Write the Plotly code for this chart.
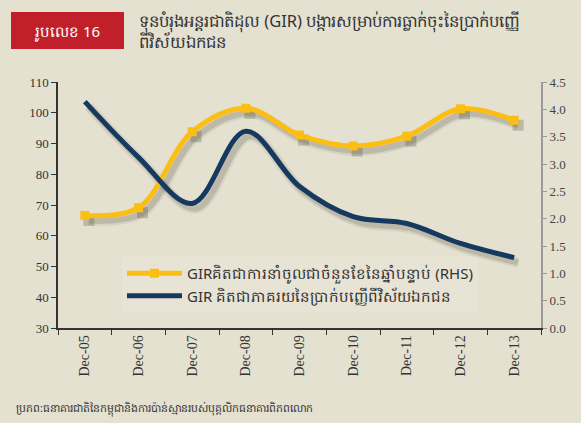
import plotly.graph_objects as go

categories = ["Dec-05", "Dec-06", "Dec-07", "Dec-08", "Dec-09", "Dec-10", "Dec-11", "Dec-12", "Dec-13"]
gir_months_rhs = [2.06, 2.20, 3.59, 4.02, 3.53, 3.33, 3.51, 4.01, 3.80]
gir_pct_deposits = [103.6, 85.5, 70.5, 94.0, 76.0, 66.2, 64.0, 57.5, 52.9]
left_ticks = [30, 40, 50, 60, 70, 80, 90, 100, 110]
right_ticks = [0.0, 0.5, 1.0, 1.5, 2.0, 2.5, 3.0, 3.5, 4.0, 4.5]
right_tick_text = ["0.0", "0.5", "1.0", "1.5", "2.0", "2.5", "3.0", "3.5", "4.0", "4.5"]

name_rhs = "GIRគិតជាការនាំចូលជាចំនួនខែនៃឆ្នាំបន្ទាប់ (RHS)"
name_lhs = "GIR គិតជាភាគរយនៃប្រាក់បញ្ញើពីវិស័យឯកជន"
title_text = "ទុនបំរុងអន្តរជាតិដុល (GIR) បង្ការសម្រាប់ការធ្លាក់ចុះនៃប្រាក់បញ្ញើ<br>ពីវិស័យឯកជន"
badge_text = "រូបលេខ 16"
source_text = "ប្រភព:ធនាគារជាតិនៃកម្ពុជានិងការប៉ាន់ស្មានរបស់បុគ្គលិកធនាគារពិភពលោក"

W, H = 581, 423
L, R, T, B = 58, 40, 82, 95
PW, PH = W - L - R, H - T - B
BG = "#E4E1D1"
YEL = "#FDBE14"
BLU = "#163A5F"
SERIF = "Liberation Serif, Times New Roman, serif"
SANS = "Noto Sans, Open Sans, sans-serif"

def px_x(p):
    return (p - L) / PW

def px_y(p):
    return (T + PH - p) / PH

# shadow offsets (pixels)
dx_px, dy_px = 4, 5
cat_w = PW / len(categories)
dx = dx_px / cat_w
dyl = dy_px * (110 - 30) / PH
dyr = dy_px * 4.5 / PH

fig = go.Figure()
# shadows (main subplot, drawn underneath)
for w, op in [(10, 0.08), (6, 0.14)]:
    fig.add_trace(go.Scatter(x=categories, y=gir_pct_deposits, xaxis="x", yaxis="y",
                             mode="lines", line=dict(color=f"rgba(40,35,20,{op})", width=w, shape="spline", smoothing=1.0),
                             showlegend=False, hoverinfo="skip"))
    fig.add_trace(go.Scatter(x=categories, y=gir_months_rhs, xaxis="x", yaxis="y2",
                             mode="lines+markers", line=dict(color=f"rgba(40,35,20,{op})", width=w, shape="spline", smoothing=1.0),
                             marker=dict(symbol="square", size=11, color=f"rgba(40,35,20,{op})"),
                             showlegend=False, hoverinfo="skip"))
# real lines
fig.add_trace(go.Scatter(x=categories, y=gir_months_rhs, xaxis="x2", yaxis="y3", name=name_rhs,
                         mode="lines+markers", line=dict(color=YEL, width=5, shape="spline", smoothing=1.0),
                         marker=dict(symbol="square", size=9, color=YEL)))
fig.add_trace(go.Scatter(x=categories, y=gir_pct_deposits, xaxis="x2", yaxis="y4", name=name_lhs,
                         mode="lines", line=dict(color=BLU, width=5, shape="spline", smoothing=1.0)))

hidden = dict(showticklabels=False, showline=False, showgrid=False, zeroline=False, ticks="")
fig.update_layout(
    width=W, height=H,
    margin=dict(l=L, r=R, t=T, b=B),
    paper_bgcolor=BG, plot_bgcolor=BG,
    showlegend=True,
    xaxis=dict(range=[-0.5 - dx, len(categories) - 0.5 - dx], type="category", **hidden),
    yaxis=dict(range=[30 + dyl, 110 + dyl], **hidden),
    yaxis2=dict(range=[0 + dyr, 4.5 + dyr], overlaying="y", **hidden),
    xaxis2=dict(range=[-0.5, len(categories) - 0.5], type="category", overlaying="x", anchor="y3",
                showline=True, linecolor="#333333", linewidth=1.5, ticks="outside", ticklen=5,
                tickcolor="#333333", tickson="boundaries", tickangle=-90,
                tickfont=dict(family=SERIF, size=14, color="#333333"), showgrid=False, zeroline=False),
    yaxis3=dict(range=[0, 4.5], overlaying="y", side="right", anchor="x2",
                tickvals=right_ticks, ticktext=right_tick_text,
                showline=True, linecolor="#9A9A9A", linewidth=2, ticks="outside", ticklen=4,
                tickcolor="#9A9A9A", tickfont=dict(family=SERIF, size=13, color="#444444"),
                showgrid=False, zeroline=False),
    yaxis4=dict(range=[30, 110], overlaying="y", side="left", anchor="x2",
                tickvals=left_ticks,
                showline=True, linecolor="#333333", linewidth=1.5, ticks="outside", ticklen=5,
                tickcolor="#333333", tickfont=dict(family=SERIF, size=13, color="#333333"),
                showgrid=False, zeroline=False),
    legend=dict(x=px_x(122), y=px_y(257), xanchor="left", yanchor="top",
                bgcolor="rgba(255,255,255,0.12)", font=dict(family=SANS, size=15, color="#333333"),
                tracegroupgap=0, itemwidth=55),
    shapes=[
        dict(type="rect", xref="paper", yref="paper", x0=px_x(11), x1=px_x(124), y0=px_y(49), y1=px_y(12),
             fillcolor="#C1202A", line=dict(width=0), layer="above"),
    ],
    annotations=[
        dict(text=badge_text, xref="paper", yref="paper", x=px_x(67), y=px_y(31), xanchor="center", yanchor="middle",
             showarrow=False, font=dict(family=SANS, size=15, color="white")),
        dict(text=title_text, xref="paper", yref="paper", x=px_x(137), y=px_y(7), xanchor="left", yanchor="top",
             align="left", showarrow=False, font=dict(family=SANS, size=16.5, color="#333333")),
        dict(text=source_text, xref="paper", yref="paper", x=px_x(14), y=px_y(408), xanchor="left", yanchor="middle",
             showarrow=False, font=dict(family=SANS, size=10.9, color="#333333")),
    ],
)

fig.write_html("out.html", config={"displayModeBar": False},
               post_script="document.body.style.margin='0';document.body.style.background='" + BG + "';")
